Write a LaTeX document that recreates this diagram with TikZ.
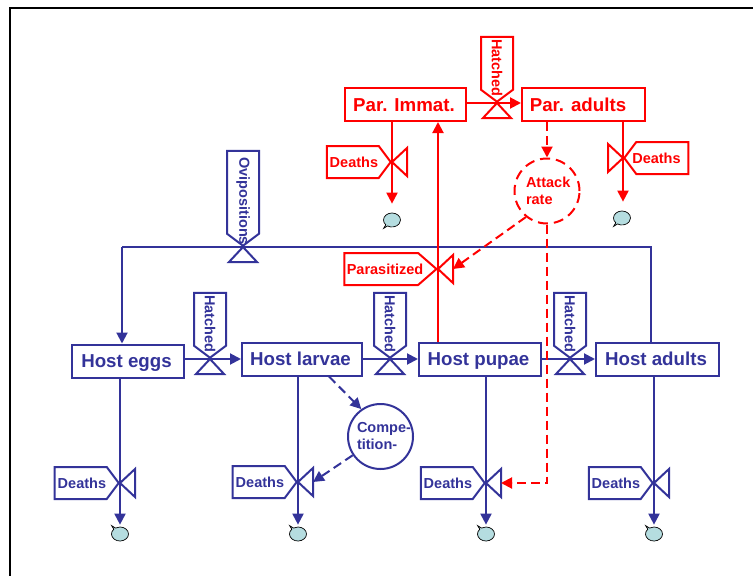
\documentclass[tikz,border=0pt]{standalone}
\usepackage{fontspec}
\setmainfont{Liberation Sans}
\usetikzlibrary{shapes,shapes.callouts,arrows.meta,positioning,calc}
\definecolor{hostblue}{HTML}{333399}
\definecolor{parred}{HTML}{FF0000}
\definecolor{sinkfill}{HTML}{B5DDE0}
\newcommand{\tagtext}[2]{\makebox[#1][l]{#2}}
\tikzstyle{line} = [draw, -{Triangle[length=11pt,width=11pt]}]
\tikzstyle{dline} = [line, dash pattern=on 9pt off 5pt]
\tikzstyle{stock} = [draw, rectangle, inner sep=0pt, minimum height=33pt, text height=13pt, text depth=0pt, execute at end node=\hspace*{3pt}, font=\bfseries\fontsize{18.7}{20}\selectfont]
\tikzstyle{rate} = [draw, circle, inner sep=0pt, minimum size=65pt, align=left, execute at begin node=\rule{0pt}{17pt}, font=\bfseries\fontsize{14.5}{17}\selectfont]
\tikzstyle{tag} = [draw, signal, signal pointer angle=106, inner sep=0pt, minimum height=32pt, font=\bfseries\fontsize{14.5}{17}\selectfont]
\tikzstyle{tagleft} = [tag, signal to=east, anchor=east, minimum width=64pt]
\tikzstyle{tagright} = [tag, signal to=west, anchor=west, minimum width=64pt]
\tikzstyle{tagdown} = [tag, signal to=east, anchor=east, rotate=-90, minimum width=65pt]
\tikzstyle{tri} = [draw, isosceles triangle, isosceles triangle stretches, inner sep=0pt, outer sep=0pt, minimum width=28pt, minimum height=15pt, anchor=apex]
\tikzstyle{sink} = [draw=black, line width=0.7pt, fill=sinkfill, ellipse callout, inner sep=0pt, minimum width=17pt, minimum height=14pt]
\begin{document}
\begin{tikzpicture}[x=1pt, y=-1pt, line width=2pt, line join=miter]
    \useasboundingbox (0,0) rectangle (753,576);
    \draw [black] (10,580) -- (10,8) -- (757,8);

    % host stages
    \begin{scope}[color=hostblue]
    \node [stock, minimum width=112pt] (eggs) at (128,361) {Host eggs};
    \node [stock, minimum width=120pt, right=56pt of eggs, yshift=2pt] (larvae) {Host larvae};
    \node [stock, minimum width=122pt, right=55pt of larvae] (pupae) {Host pupae};
    \node [stock, minimum width=123pt, right=53pt of pupae] (adults) {Host adults};
    \node [rate] (comp) at (380.5,436.5) {\tagtext{47pt}{Compe-}\\tition-};

    \node [tagdown, minimum width=95pt] (ovi) at (243,247) {\tagtext{70pt}{Ovipositions}};
    \node [tri, rotate=90] (triovi) at (ovi.east) {};
    \node [tagdown] (hatche) at (210,359) {\tagtext{48pt}{Hatched}};
    \node [tri, rotate=90] (trihe) at (hatche.east) {};
    \node [tagdown] (hatchl) at (390,359) {\tagtext{48pt}{Hatched}};
    \node [tri, rotate=90] (trihl) at (hatchl.east) {};
    \node [tagdown] (hatchp) at (570,359) {\tagtext{48pt}{Hatched}};
    \node [tri, rotate=90] (trihp) at (hatchp.east) {};

    \node [tagleft] (deathe) at (120,483) {\tagtext{46pt}{Deaths}};
    \node [tri, rotate=180] (trie) at (deathe.east) {};
    \node [tagleft] (deathl) at (298,482) {\tagtext{46pt}{Deaths}};
    \node [tri, rotate=180] (tril) at (deathl.east) {};
    \node [tagleft] (deathp) at (486,483) {\tagtext{46pt}{Deaths}};
    \node [tri, rotate=180] (trip) at (deathp.east) {};
    \node [tagleft] (deatha) at (654,483) {\tagtext{46pt}{Deaths}};
    \node [tri, rotate=180] (tria) at (deatha.east) {};

    \coordinate (ovisrc) at (651,247);
    \coordinate (ovidst) at (122,247);
    \path [draw] (ovisrc |- adults.north) -- (ovisrc) -- (ovidst);
    \path [line] (ovidst) -- (ovidst |- eggs.north);
    \path [line] (eggs.east |- hatche.east) -- (larvae.west);
    \path [line] (larvae.east) -- (pupae.west);
    \path [line] (pupae.east) -- (adults.west);
    \end{scope}

    \node [sink, callout relative pointer={(-3pt,3pt)}] (sinke) at (120,534) {};
    \node [sink, callout relative pointer={(-3pt,3pt)}] (sinkl) at (298,534) {};
    \node [sink, callout relative pointer={(-3pt,3pt)}] (sinkp) at (486,534) {};
    \node [sink, callout relative pointer={(-3pt,3pt)}] (sinka) at (654,534) {};

    \begin{scope}[color=hostblue]
    \path [line, shorten >=2pt] (deathe.east |- eggs.south) -- (deathe.east |- sinke.north);
    \path [line, shorten >=2pt] (deathl.east |- larvae.south) -- (deathl.east |- sinkl.north);
    \path [line, shorten >=2pt] (deathp.east |- pupae.south) -- (deathp.east |- sinkp.north);
    \path [line, shorten >=2pt] (deatha.east |- adults.south) -- (deatha.east |- sinka.north);
    \path [dline] (larvae.-33) -- (comp.125);
    \path [dline] (comp.214) -- (tril.lower side);
    \end{scope}

    % parasitoid stages
    \begin{scope}[color=parred]
    \node [stock, minimum width=121pt] (immat) at (405.5,104.5) {Par. Immat.};
    \node [stock, minimum width=123pt, right=54pt of immat] (padults) {Par. adults\hspace*{8pt}};
    \node [rate, dash pattern=on 10pt off 6pt] (attack) at (547,191) {\tagtext{42pt}{Attack}\\rate};

    \node [tagdown] (hatchi) at (497,103) {\tagtext{48pt}{Hatched}};
    \node [tri, rotate=90] (trihi) at (hatchi.east) {};
    \node [tagleft] (deathi) at (392,162) {\tagtext{46pt}{Deaths}};
    \node [tri, rotate=180] (trii) at (deathi.east) {};
    \node [tagright] (deathd) at (623,158) {\tagtext{46pt}{\hspace*{-7pt}Deaths}};
    \node [tri, rotate=0] (trid) at (deathd.west) {};
    \node [tagleft, signal pointer angle=82, minimum width=92pt] (para) at (438,269) {\tagtext{69pt}{Parasitized}};
    \node [tri, rotate=180] (tripara) at (para.east) {};

    \path [line] (immat.east |- hatchi.east) -- (padults.west |- hatchi.east);
    \path [line] (para.east |- pupae.north) -- (para.east |- immat.south);
    \path [dline] (attack.north |- padults.south) -- (attack.north);
    \path [dline] (attack.231) -- (tripara.lower side);
    \path [dline] (attack.south) -- (attack.south |- trip.lower side) -- (trip.lower side);
    \end{scope}

    \node [sink, callout relative pointer={(-3pt,-3pt)}] (sinki) at (392,220) {};
    \node [sink, callout relative pointer={(-3pt,-3pt)}] (sinkd) at (622,218) {};

    \begin{scope}[color=parred]
    \path [line, shorten >=9pt] (deathi.east |- immat.south) -- (deathi.east |- sinki.north);
    \path [line, shorten >=9pt] (deathd.west |- padults.south) -- (deathd.west |- sinkd.north);
    \end{scope}
\end{tikzpicture}
\end{document}
